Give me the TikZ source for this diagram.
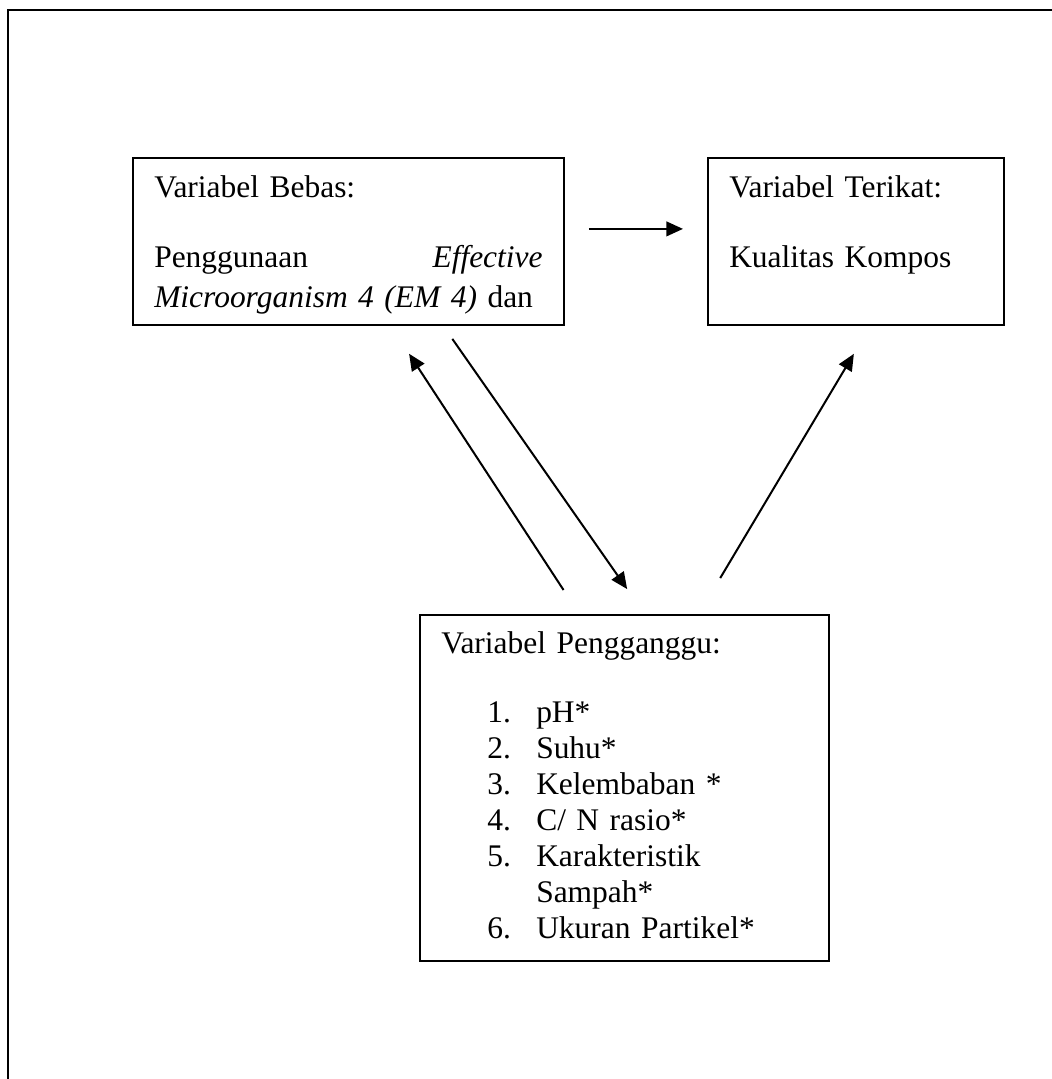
\documentclass[tikz,border=0pt]{standalone}
\usepackage{fontspec}
\setmainfont{Liberation Serif}
\usetikzlibrary{arrows.meta, calc}

\newcommand{\pgitem}[2]{\hspace*{34.5pt}\makebox[36.75pt][l]{#1}#2}

\begin{document}
\begin{tikzpicture}[x=0.75pt, y=-0.75pt, >={Triangle[length=12.5pt, width=11pt]}, line width=1.5pt,
    varbox/.style={draw, line width=1.4pt, anchor=north west, align=left, inner xsep=16pt, inner ysep=0pt,
        font=\fontsize{23.6pt}{30pt}\selectfont}]
    \useasboundingbox (0,0) rectangle (1052,1079);
    % Frame
    \draw[line width=1.7pt] (8,1090) -- (8,10) -- (1060,10);

    % Nodes
    \node (bebas) [varbox, text width=291.25pt, text height=30pt, text depth=95.25pt] at (132,157)
        {Variabel Bebas:\\[22.5pt]
         Penggunaan \hfill \textit{Effective}\\
         \makebox[\linewidth][s]{\textit{Microorganism 4 (EM 4)} dan}};
    \node (terikat) [varbox, text width=190pt, text height=30pt, text depth=95.25pt] at (707,157)
        {Variabel Terikat:\\[22.5pt]
         Kualitas Kompos};
    \node (pengganggu) [varbox, text width=274.75pt, text height=29.25pt, text depth=230.25pt,
        font=\fontsize{23.6pt}{27pt}\selectfont] at (419,614)
        {Variabel Pengganggu:\\[24.75pt]
         \pgitem{1.}{pH*}\\
         \pgitem{2.}{Suhu*}\\
         \pgitem{3.}{Kelembaban *}\\
         \pgitem{4.}{C/ N rasio*}\\
         \pgitem{5.}{Karakteristik}\\
         \pgitem{}{Sampah*}\\
         \pgitem{6.}{Ukuran Partikel*}};

    % Arrows
    \draw[->, shorten <=18pt, shorten >=18pt] ([yshift=9.4pt]bebas.east) -- ([yshift=9.4pt]terikat.west);
    \draw[->, shorten <=21.5pt, shorten >=25pt]
        ($(pengganggu.north west)!0.39!(pengganggu.north east)$) -- ($(bebas.south west)!0.598!(bebas.south east)$);
    \draw[->, shorten <=11.9pt, shorten >=22.8pt]
        ($(bebas.south west)!0.719!(bebas.south east)$) -- ($(pengganggu.north west)!0.549!(pengganggu.north east)$);
    \draw[->, shorten <=31.4pt, shorten >=24.4pt]
        ($(pengganggu.north west)!0.681!(pengganggu.north east)$) -- ($(terikat.south west)!0.549!(terikat.south east)$);
\end{tikzpicture}
\end{document}
